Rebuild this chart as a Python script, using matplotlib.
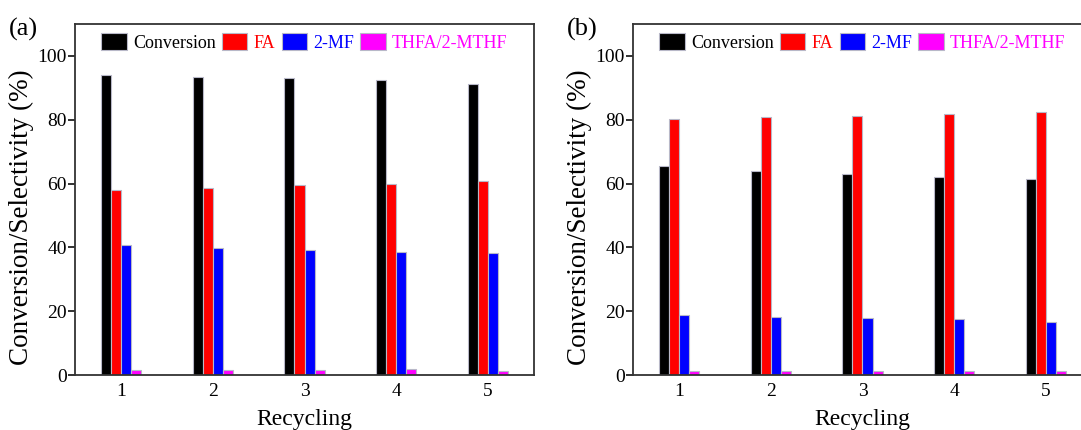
import matplotlib
matplotlib.use("Agg")
import matplotlib.pyplot as plt
import numpy as np

plt.rcParams['font.family'] = ['Liberation Serif', 'DejaVu Serif']

recycles = [1, 2, 3, 4, 5]
series_names = ["Conversion", "FA", "2-MF", "THFA/2-MTHF"]
colors = ["#000000", "#ff0000", "#0000ff", "#ff00ff"]

conv_a = [94.0, 93.4, 93.0, 92.5, 91.2]
fa_a = [58.1, 58.5, 59.6, 59.9, 60.7]
mf_a = [40.6, 39.9, 39.1, 38.5, 38.1]
thfa_a = [1.6, 1.6, 1.6, 1.9, 1.3]

conv_b = [65.6, 64.0, 63.1, 62.2, 61.3]
fa_b = [80.2, 80.8, 81.2, 81.8, 82.4]
mf_b = [18.7, 18.1, 17.9, 17.4, 16.6]
thfa_b = [1.4, 1.3, 1.3, 1.2, 1.2]

yticks = [0, 20, 40, 60, 80, 100]

fig = plt.figure(figsize=(10.81, 4.30), dpi=100)
W = 459 / 1081
bottom = 1 - 375 / 430
height = (375 - 24) / 430
ax_a = fig.add_axes([75 / 1081, bottom, W, height])
ax_b = fig.add_axes([633 / 1081, bottom, W, height])

width = 0.11
x = np.array(recycles, dtype=float)

def draw(ax, data, label):
    offsets = [-1.5, -0.5, 0.5, 1.5]
    for vals, col, off, name in zip(data, colors, offsets, series_names):
        ax.bar(x + off * width, vals, width, color=col, edgecolor="#b8b8c8",
               linewidth=0.8, label=name)
    ax.set_xlim(0.5, 5.5)
    ax.set_ylim(0, 110)
    ax.set_yticks(yticks)
    ax.set_xticks(recycles)
    ax.tick_params(axis='y', direction='out', length=5, width=1.3, labelsize=14,
                   color='#222222', pad=1)
    ax.tick_params(axis='x', length=0, labelsize=14, pad=6)
    for s in ax.spines.values():
        s.set_linewidth(1.3)
        s.set_color('#333333')
    ax.set_xlabel("Recycling", fontsize=17, labelpad=6)
    ax.set_ylabel("Conversion/Selectivity (%)", fontsize=19.5)
    ax.yaxis.set_label_coords(-0.089, 0.45)
    leg = ax.legend(loc='upper center', bbox_to_anchor=(0.5, 1.0), ncol=4,
                    frameon=False, fontsize=13, handlelength=1.4, handleheight=1.05,
                    handletextpad=0.35, columnspacing=0.35, borderaxespad=0.1)
    for t, c in zip(leg.get_texts(), colors):
        t.set_color(c)
    ax.text(-0.143, 0.985, label, transform=ax.transAxes, fontsize=19,
            ha='left', va='center')

draw(ax_a, [conv_a, fa_a, mf_a, thfa_a], "(a)")
draw(ax_b, [conv_b, fa_b, mf_b, thfa_b], "(b)")

fig.savefig("out.png", dpi=100)
